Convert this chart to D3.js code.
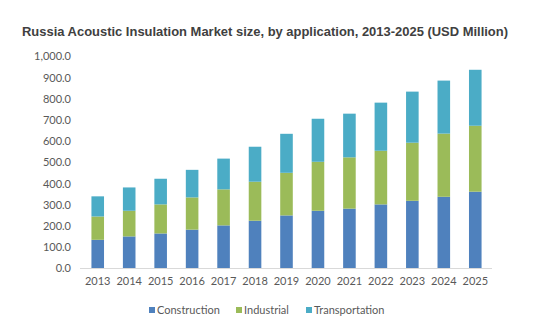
<!DOCTYPE html>
<html>
<head>
<meta charset="utf-8">
<script src="https://cdn.jsdelivr.net/npm/d3@7"></script>
<style>
  body { margin: 0; background: #fff; }
  svg text { font-family: Lato, "Open Sans", sans-serif; fill: #595959; }
  .title { font-family: "Liberation Sans", Arial, sans-serif; font-weight: bold; fill: #404040; }
</style>
</head>
<body>
<div id="chart"></div>
<script>
var years = ["2013", "2014", "2015", "2016", "2017", "2018", "2019", "2020", "2021", "2022", "2023", "2024", "2025"]
var construction = [133, 149, 163, 181, 201, 223, 248, 270, 280, 300, 317, 336, 360]
var industrial = [110, 121, 137, 152, 170, 184, 201, 231, 242, 253, 274, 298, 311]
var transportation = [95, 110, 121, 130, 145, 165, 184, 203, 206, 227, 241, 250, 264]
var seriesNames = ["Construction", "Industrial", "Transportation"]
var seriesColors = ["#4f81bd", "#9bbb59", "#4bacc6"]
var yTicks = [0, 100, 200, 300, 400, 500, 600, 700, 800, 900, 1000]

var width = 535, height = 332
var svg = d3.select("#chart").append("svg")
  .attr("width", width)
  .attr("height", height)

svg.append("text")
  .attr("class", "title")
  .attr("x", 22)
  .attr("y", 36)
  .attr("font-size", 13)
  .attr("textLength", 486)
  .attr("lengthAdjust", "spacingAndGlyphs")
  .text("Russia Acoustic Insulation Market size, by application, 2013-2025 (USD Million)")

var x = d3.scaleBand()
  .domain(years)
  .range([82, 491])
  .paddingInner(0.6)
  .paddingOuter(0.3)

var y = d3.scaleLinear()
  .domain([0, 1000])
  .range([268, 56])

// stack rows built from the three series
var rows = years.map(function(yr, i) {
  return { year: yr, Construction: construction[i], Industrial: industrial[i], Transportation: transportation[i] }
})
var stacked = d3.stack().keys(seriesNames)(rows)

svg.append("g")
  .selectAll("g")
  .data(stacked)
  .join("g")
    .attr("fill", function(d, i) { return seriesColors[i] })
  .selectAll("rect")
  .data(function(d) { return d })
  .join("rect")
    .attr("x", function(d) { return x(d.data.year) })
    .attr("y", function(d) { return y(d[1]) })
    .attr("width", x.bandwidth())
    .attr("height", function(d) { return y(d[0]) - y(d[1]) })

// y axis labels, no line
var yAxis = svg.append("g")
  .attr("transform", "translate(71,0)")
  .call(d3.axisLeft(y).tickValues(yTicks).tickSize(0).tickPadding(0)
    .tickFormat(function(d) { return d3.format(",.1f")(d) }))
yAxis.select(".domain").remove()
yAxis.selectAll("text").attr("font-size", 11).attr("font-family", null).attr("dy", "0.35em")

// x axis with light baseline
var xAxis = svg.append("g")
  .attr("transform", "translate(0,268)")
  .call(d3.axisBottom(x).tickSize(0).tickPadding(9))
xAxis.select(".domain").attr("stroke", "#d9d9d9").attr("d", "M80,0.5H492")
xAxis.selectAll("text").attr("font-size", 11).attr("font-family", null)

// legend
var legendX = [149, 236, 306]
var legend = svg.append("g")
  .selectAll("g")
  .data(seriesNames)
  .join("g")
    .attr("transform", function(d, i) { return "translate(" + legendX[i] + ",307)" })
legend.append("rect")
  .attr("width", 6)
  .attr("height", 6)
  .attr("fill", function(d, i) { return seriesColors[i] })
legend.append("text")
  .attr("x", 8)
  .attr("y", 3)
  .attr("dy", "0.35em")
  .attr("font-size", 11)
  .text(function(d) { return d })
</script>
</body>
</html>
